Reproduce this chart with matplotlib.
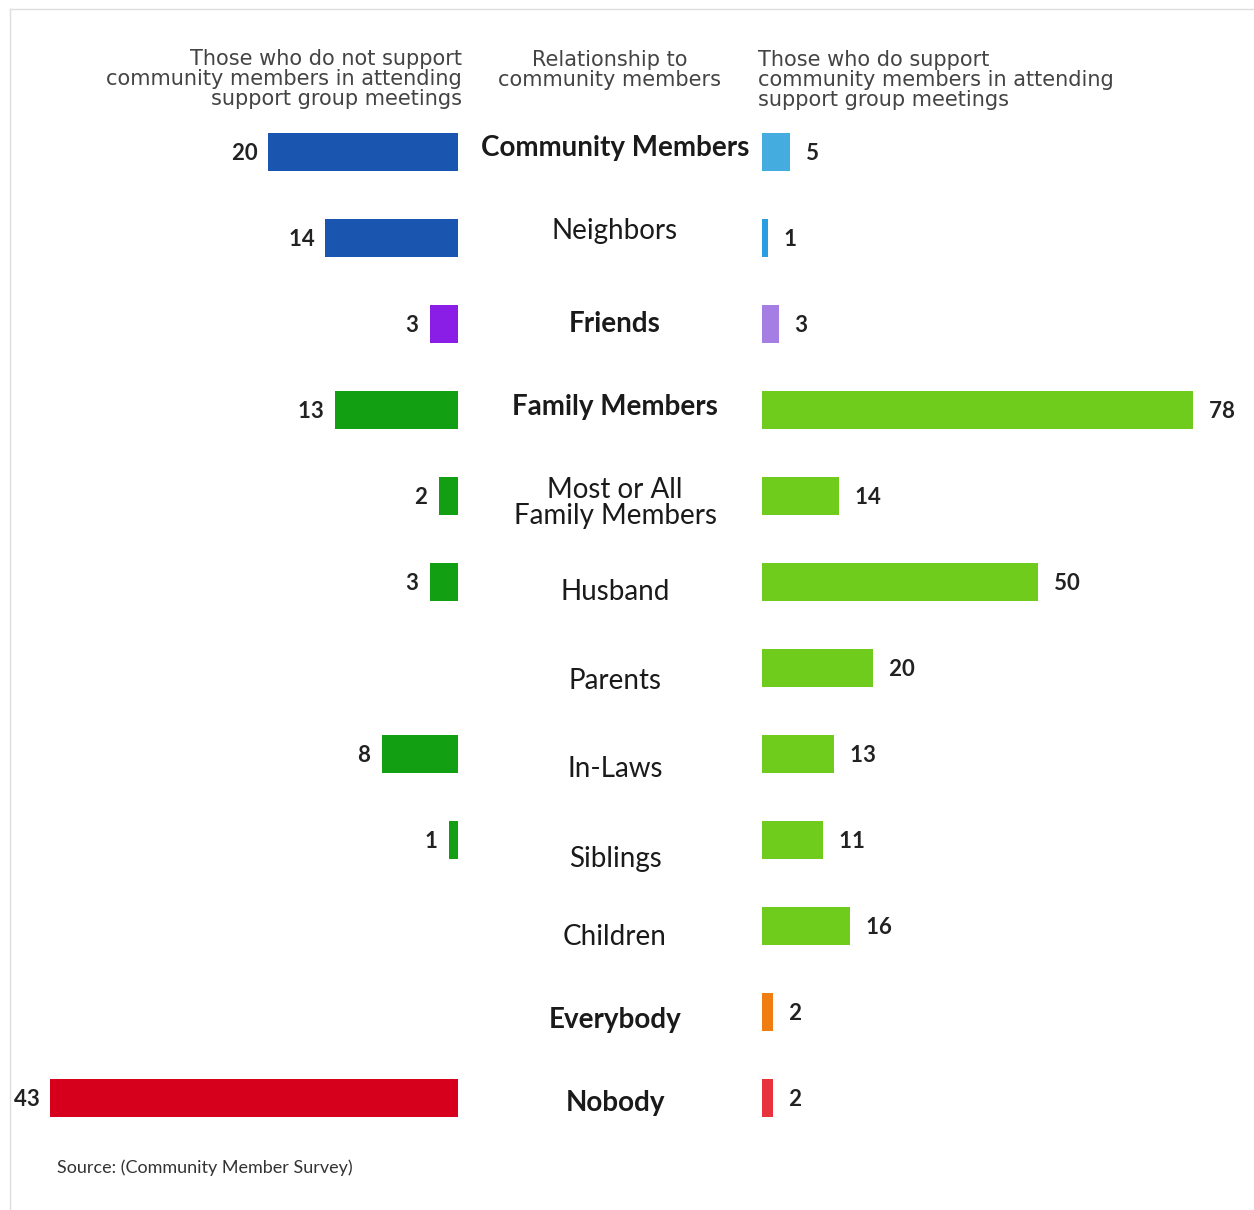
import matplotlib.pyplot as plt
from matplotlib.lines import Line2D

# Relationship categories, top to bottom
categories = ["Community Members", "Neighbors", "Friends", "Family Members",
              "Most or All\nFamily Members", "Husband", "Parents", "In-Laws",
              "Siblings", "Children", "Everybody", "Nobody"]
bold_rows = ["Community Members", "Friends", "Family Members", "Everybody", "Nobody"]

# Those who do not support (None = no bar)
not_support = [20, 14, 3, 13, 2, 3, None, 8, 1, None, None, 43]
# Those who do support
do_support = [5, 1, 3, 78, 14, 50, 20, 13, 11, 16, 2, 2]

left_colors = ["#1a55b0", "#1a55b0", "#8a1ee6", "#12a012", "#12a012", "#12a012",
               "#12a012", "#12a012", "#12a012", "#12a012", "#12a012", "#d6001c"]
right_colors = ["#45ace0", "#2b9ee2", "#a47ee2", "#70cc1c", "#70cc1c", "#70cc1c",
                "#70cc1c", "#70cc1c", "#70cc1c", "#70cc1c", "#f07d12", "#e8333e"]

# vertical nudge of the middle labels (in row units)
label_nudge = [-0.05, -0.08, 0.0, -0.03, 0.08, 0.12, 0.15, 0.18, 0.22, 0.13, 0.09, 0.06]

plt.rcParams["font.family"] = ["Lato", "DejaVu Sans"]

W, H = 1254, 1210
fig = plt.figure(figsize=(W / 100, H / 100), dpi=100)

y_top, y_bot = 109, 1141
ax_b = 1 - y_bot / H
ax_h = (y_bot - y_top) / H

ax_l = fig.add_axes([50 / W, ax_b, (458 - 50) / W, ax_h])
ax_m = fig.add_axes([470 / W, ax_b, (760 - 470) / W, ax_h])
ax_r = fig.add_axes([762 / W, ax_b, (1193 - 762) / W, ax_h])

# Left side
for i, v in enumerate(not_support):
    if v is None:
        continue
    ax_l.barh(i, v, height=0.44, color=left_colors[i])
    ax_l.text(v, i + 0.02, f"{v}  ", ha="right", va="center", fontsize=16,
              fontweight="bold", color="#222222", clip_on=False)
ax_l.set_xlim(43, 0)

# Right side
for i, v in enumerate(do_support):
    ax_r.barh(i, v, height=0.44, color=right_colors[i])
    ax_r.text(v, i + 0.02, f"   {v}", ha="left", va="center", fontsize=16,
              fontweight="bold", color="#222222", clip_on=False)
ax_r.set_xlim(0, 78)

# Middle labels
for i, c in enumerate(categories):
    ax_m.text(0.5, i + label_nudge[i], c, ha="center", va="center", fontsize=20,
              fontweight="bold" if c in bold_rows else "normal",
              color="#1a1a1a", linespacing=1.0)
ax_m.set_xlim(0, 1)

for ax in (ax_l, ax_m, ax_r):
    ax.set_ylim(len(categories) - 0.5, -0.5)
    ax.axis("off")

# Column headers
hdr = dict(fontsize=15, color="#444444", linespacing=1.0, family="DejaVu Sans")
fig.text(462 / W, 1 - 79 / H,
         "Those who do not support\ncommunity members in attending\nsupport group meetings",
         ha="right", va="center", **hdr)
fig.text(610 / W, 1 - 70 / H, "Relationship to\ncommunity members",
         ha="center", va="center", **hdr)
fig.text(758 / W, 1 - 80 / H,
         "Those who do support\ncommunity members in attending\nsupport group meetings",
         ha="left", va="center", **hdr)

# Source
fig.text(57 / W, 1 - 1168 / H, "Source: (Community Member Survey)",
         ha="left", va="center", fontsize=13, color="#333333")

# Card border
fig.add_artist(Line2D([10 / W, 1], [1 - 9 / H, 1 - 9 / H], color="#dddddd", lw=1))
fig.add_artist(Line2D([10 / W, 10 / W], [0, 1 - 9 / H], color="#dddddd", lw=1))

fig.savefig("out.png", dpi=100, facecolor="white")
